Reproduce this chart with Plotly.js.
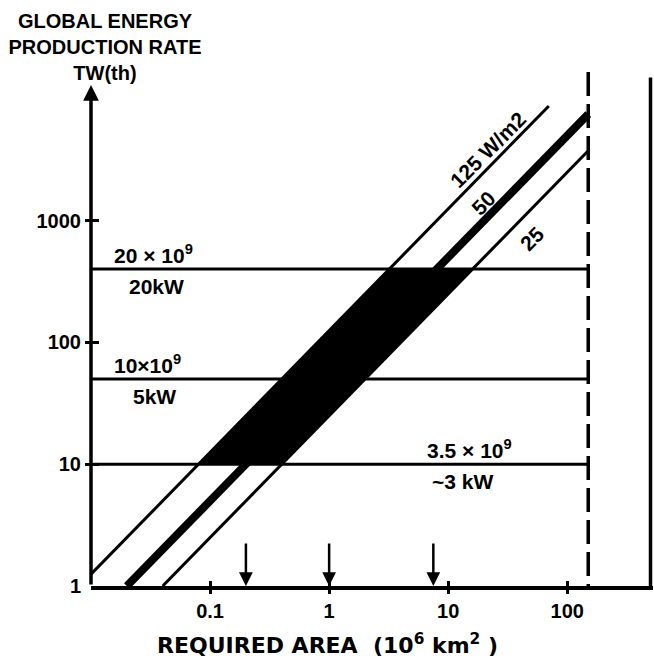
<!DOCTYPE html>
<html>
<head>
<meta charset="utf-8">
<script src="https://cdn.plot.ly/plotly-3.0.1.min.js"></script>
<style>html,body{margin:0;padding:0;background:#fff}</style>
</head>
<body>
<div id="chart" style="width:654px;height:663px"></div>
<script>
// Demand scenarios: population, per-capita use and the resulting global rate (TW)
const SCENARIO_POP = ['20 × 10<sup>9</sup>', '10×10<sup>9</sup>', '3.5 × 10<sup>9</sup>'];
const SCENARIO_PER_CAPITA = ['20kW', '5kW', '~3 kW'];
const SCENARIO_TW = [400, 50, 10];

// Average yield of the collecting area, W/m2
const YIELD_W_M2 = [125, 50, 25];
const YIELD_LABELS = ['125 W/m2', '50', '25'];
const YIELD_AREA_FROM = [0.01, 0.02, 0.04];
const YIELD_AREA_TO = [70, 150, 150];

// Reference areas, 10^6 km2
const LAND_AREA = 150;
const EARTH_SURFACE = 500;
const MARKED_AREAS = [0.2, 1, 7.5];

// Axis ticks
const X_TICKS = [0.1, 1, 10, 100];
const X_TICK_TEXT = ['0.1', '1', '10', '100'];
const Y_TICKS = [1, 10, 100, 1000];
const Y_TICK_TEXT = ['1', '10', '100', '1000'];

const X_RANGE = [-2, 2.72];
const Y_RANGE = [0, 4.27];
const AXIS_ORIGIN_X = 0.01;
const AXIS_TOP = 13000;
const DASH_TOP = 16600;
const EDGE_TOP = 15000;

const INK = '#000';
const FONT = 'Liberation Sans, Arial, sans-serif';
const WIDE_FONT = 'DejaVu Sans, Verdana, sans-serif';
const lg = Math.log10;

// P [TW] = yield [W/m2] x area [10^12 m2]
const powerAt = (w, a) => w * a;

const traces = [];

// Shaded band: all yields between the highest and lowest one, for demand 10..400 TW
const pLow = Math.min(...SCENARIO_TW), pHigh = Math.max(...SCENARIO_TW);
const wHigh = Math.max(...YIELD_W_M2), wLow = Math.min(...YIELD_W_M2);
traces.push({
  x: [pLow / wHigh, pLow / wLow, pHigh / wLow, pHigh / wHigh],
  y: [pLow, pLow, pHigh, pHigh],
  mode: 'lines', fill: 'toself', fillcolor: INK,
  line: {color: INK, width: 1}, hoverinfo: 'skip'
});

// Demand levels, from the axis out to the land area
SCENARIO_TW.forEach(p => traces.push({
  x: [AXIS_ORIGIN_X, LAND_AREA], y: [p, p],
  mode: 'lines', line: {color: INK, width: 3}
}));

// Constant-yield lines
YIELD_W_M2.forEach((w, i) => traces.push({
  x: [YIELD_AREA_FROM[i], YIELD_AREA_TO[i]],
  y: [powerAt(w, YIELD_AREA_FROM[i]), powerAt(w, YIELD_AREA_TO[i])],
  mode: 'lines', line: {color: INK, width: w === 50 ? 8 : 3}
}));

// Land area limit (dashed) on the overlay x axis
traces.push({
  x: [LAND_AREA, LAND_AREA], y: [DASH_TOP, 1], xaxis: 'x2',
  mode: 'lines', line: {color: INK, width: 3.5, dash: '24px,8px'}
});

// Whole Earth surface on the overlay y axis
traces.push({
  x: [EARTH_SURFACE, EARTH_SURFACE], y: [1, EDGE_TOP], yaxis: 'y2',
  mode: 'lines', line: {color: INK, width: 3.5}
});

const annotations = [];

// Vertical axis drawn as an arrow
annotations.push({
  x: lg(AXIS_ORIGIN_X), y: lg(AXIS_TOP), xref: 'x', yref: 'y',
  ax: lg(AXIS_ORIGIN_X), ay: 0, axref: 'x', ayref: 'y', text: '',
  showarrow: true, arrowhead: 2, arrowsize: 0.9, arrowwidth: 3.5,
  arrowcolor: INK, standoff: 0
});

SCENARIO_TW.forEach((p, i) => {
  const right = i === 2;
  annotations.push({
    x: right ? 1.179 : (i === 0 ? -1.476 : -1.527), y: lg(p), xref: 'x', yref: 'y',
    text: SCENARIO_POP[i], showarrow: false, yanchor: 'bottom', yshift: 0,
    font: {family: FONT, size: 21, weight: 'bold', color: INK}
  });
  annotations.push({
    x: right ? 1.121 : (i === 0 ? -1.451 : -1.468), y: lg(p), xref: 'x', yref: 'y',
    text: SCENARIO_PER_CAPITA[i], showarrow: false, yanchor: 'top', yshift: -4,
    font: {family: FONT, size: 21, weight: 'bold', color: INK}
  });
});

// Yield labels along their lines (log area of the label, offset from the line in px)
const yieldLabelAt = [1.376, 1.326, 1.704];
const yieldLabelShift = [[-5, 14], [-4, 14], [0, -30]];
YIELD_LABELS.forEach((t, i) => annotations.push({
  x: yieldLabelAt[i], y: lg(YIELD_W_M2[i]) + yieldLabelAt[i], xref: 'x', yref: 'y',
  xshift: yieldLabelShift[i][0], yshift: yieldLabelShift[i][1],
  text: t, showarrow: false, textangle: -45,
  font: {family: FONT, size: 21, weight: 'bold', color: INK}
}));

// Markers pointing at particular areas
MARKED_AREAS.forEach(a => annotations.push({
  x: lg(a), y: 0, xref: 'x', yref: 'y', text: '',
  showarrow: true, ax: 0, ay: -44, arrowhead: 2, arrowsize: 1.1,
  arrowwidth: 2.5, arrowcolor: INK, standoff: 0
}));

// Horizontal axis title
annotations.push({
  x: (327 - 91) / 562, y: -0.112, xref: 'paper', yref: 'paper',
  text: 'REQUIRED AREA  (10<sup>6</sup> km<sup>2</sup> )', showarrow: false,
  xanchor: 'center', yanchor: 'middle',
  font: {family: WIDE_FONT, size: 22, weight: 'bold', color: INK}
});

const layout = {
  width: 654, height: 663,
  margin: {l: 91, r: 1, t: 66, b: 77},
  paper_bgcolor: '#fff', plot_bgcolor: '#fff',
  showlegend: false,
  title: {
    text: 'GLOBAL ENERGY<br>PRODUCTION RATE<br>TW(th)',
    x: 105 / 654, xref: 'container', xanchor: 'center',
    y: 0.958, yref: 'container', yanchor: 'top',
    font: {family: FONT, size: 20, weight: 'bold', color: INK}
  },
  xaxis: {
    type: 'log', range: X_RANGE, tickvals: X_TICKS, ticktext: X_TICK_TEXT,
    ticks: 'outside', ticklen: 4, tickwidth: 3, tickcolor: INK,
    showline: true, linewidth: 3.5, linecolor: INK,
    showgrid: false, zeroline: false, ticklabelstandoff: 0,
    tickfont: {family: FONT, size: 20, weight: 'bold', color: INK}
  },
  xaxis2: {
    type: 'log', range: X_RANGE, overlaying: 'x', anchor: 'y',
    tickvals: X_TICKS, ticks: 'inside', ticklen: 5, tickwidth: 3, tickcolor: INK,
    showticklabels: false, showgrid: false, zeroline: false, showline: false
  },
  yaxis: {
    type: 'log', range: Y_RANGE, tickvals: Y_TICKS, ticktext: Y_TICK_TEXT,
    ticks: '', showline: false, showgrid: false, zeroline: false,
    ticklabelstandoff: 9,
    tickfont: {family: FONT, size: 20, weight: 'bold', color: INK}
  },
  yaxis2: {
    type: 'log', range: Y_RANGE, overlaying: 'y', anchor: 'free', position: 0,
    shift: -7, side: 'left',
    tickvals: Y_TICKS.slice(1), ticks: 'inside', ticklen: 14, tickwidth: 3, tickcolor: INK,
    showticklabels: false, showgrid: false, zeroline: false, showline: false
  },
  annotations: annotations
};

Plotly.newPlot('chart', traces, layout, {staticPlot: true});
</script>
</body>
</html>
